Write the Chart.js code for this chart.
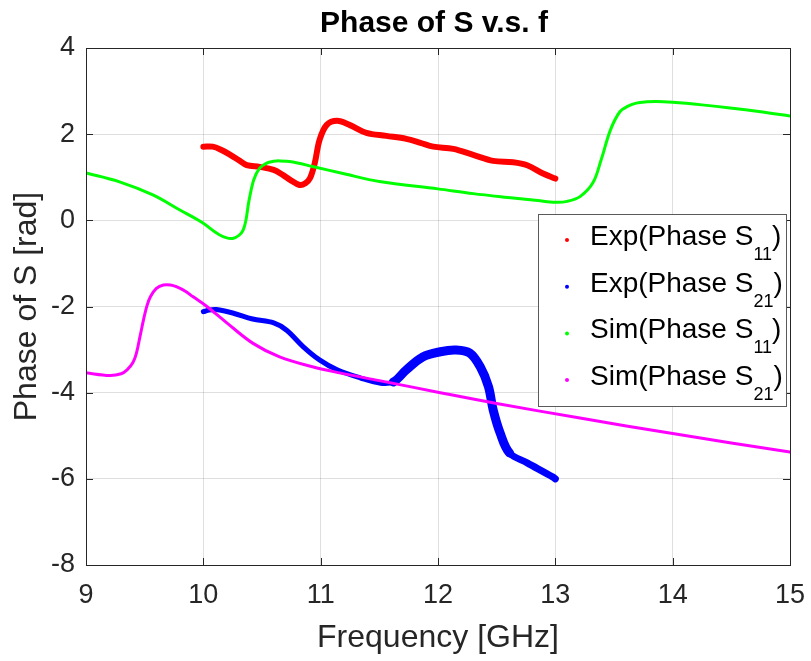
<!DOCTYPE html>
<html>
<head>
<meta charset="utf-8">
<script src="https://cdn.jsdelivr.net/npm/chart.js@4.4.1/dist/chart.umd.min.js"></script>
<style>
  html, body { margin: 0; padding: 0; background: #fff; }
</style>
</head>
<body>
<canvas id="phaseChart" width="811" height="661"></canvas>
<script>
// measured phase of S11 / S21 (10-13 GHz)
const expS11Freq = [10.0, 10.08, 10.15, 10.23, 10.3, 10.37, 10.48, 10.6, 10.68, 10.74, 10.82, 10.87, 10.91, 10.95, 10.99, 11.05, 11.14, 11.25, 11.39, 11.56, 11.73, 11.85, 11.96, 12.13, 12.3, 12.47, 12.64, 12.76, 12.9, 13.0];
const expS11Phase = [1.71, 1.71, 1.64, 1.52, 1.40, 1.28, 1.24, 1.17, 1.05, 0.94, 0.82, 0.86, 0.98, 1.33, 1.86, 2.21, 2.31, 2.21, 2.03, 1.96, 1.89, 1.80, 1.71, 1.66, 1.52, 1.38, 1.35, 1.28, 1.08, 0.97];

const expS21Freq = [10.0, 10.05, 10.11, 10.25, 10.42, 10.6, 10.71, 10.85, 10.99, 11.14, 11.34, 11.51, 11.62, 11.73, 11.87, 12.02, 12.15, 12.27, 12.36, 12.43, 12.47, 12.53, 12.61, 12.76, 12.98, 13.0];
const expS21Phase = [-2.12, -2.08, -2.07, -2.15, -2.29, -2.38, -2.55, -2.93, -3.24, -3.47, -3.66, -3.78, -3.75, -3.47, -3.17, -3.05, -3.01, -3.08, -3.40, -3.86, -4.40, -4.94, -5.40, -5.63, -5.96, -6.0];

// simulated phase (9-15 GHz)
const simS11Freq = [9.0, 9.28, 9.57, 9.8, 9.99, 10.14, 10.25, 10.34, 10.39, 10.43, 10.48, 10.54, 10.6, 10.65, 10.75, 10.93, 11.2, 11.5, 12.0, 12.3, 12.64, 12.85, 13.0, 13.1, 13.21, 13.32, 13.39, 13.47, 13.55, 13.62, 13.69, 13.78, 13.86, 14.0, 14.25, 14.49, 14.75, 15.0];
const simS11Phase = [1.10, 0.90, 0.59, 0.24, -0.05, -0.34, -0.42, -0.22, 0.47, 0.94, 1.21, 1.33, 1.37, 1.38, 1.36, 1.25, 1.08, 0.90, 0.73, 0.62, 0.52, 0.46, 0.42, 0.44, 0.55, 0.87, 1.40, 2.10, 2.52, 2.65, 2.72, 2.75, 2.76, 2.74, 2.68, 2.61, 2.52, 2.42];

const simS21Freq = [9.0, 9.2, 9.3, 9.35, 9.40, 9.43, 9.46, 9.49, 9.52, 9.55, 9.60, 9.66, 9.72, 9.77, 9.85, 9.91, 10.03, 10.2, 10.42, 10.65, 10.93, 11.16, 11.5, 12.02, 12.5, 13.21, 14.0, 15.0];
const simS21Phase = [-3.54, -3.60, -3.56, -3.47, -3.30, -3.08, -2.70, -2.31, -1.98, -1.77, -1.58, -1.50, -1.50, -1.54, -1.65, -1.77, -2.0, -2.38, -2.85, -3.17, -3.40, -3.54, -3.72, -4.0, -4.25, -4.59, -4.95, -5.38];

const seriesNames = ['Exp(Phase S', 'Exp(Phase S', 'Sim(Phase S', 'Sim(Phase S'];
const seriesSubs = ['11', '21', '11', '21'];
const seriesColors = ['#ff0000', '#0000ff', '#00ff00', '#ff00ff'];

const xTicks = [9, 10, 11, 12, 13, 14, 15];
const yTicks = [-8, -6, -4, -2, 0, 2, 4];

const FONT = '"Liberation Sans", Arial, Helvetica, sans-serif';
const AXIS_COLOR = '#262626';

function toPoints(xs, ys) {
  return xs.map((x, i) => ({ x: x, y: ys[i] }));
}

// box, inward ticks, title and legend, MATLAB style
const figureExtras = {
  id: 'figureExtras',
  afterDraw(chart) {
    const ctx = chart.ctx;
    const { left, right, top, bottom } = chart.chartArea;
    const xs = chart.scales.x, ys = chart.scales.y;
    const tickLen = 7;

    ctx.save();
    ctx.strokeStyle = AXIS_COLOR;
    ctx.lineWidth = 1;
    ctx.beginPath();
    xTicks.forEach(v => {
      const px = Math.round(xs.getPixelForValue(v)) + 0.5;
      ctx.moveTo(px, bottom); ctx.lineTo(px, bottom - tickLen);
      ctx.moveTo(px, top); ctx.lineTo(px, top + tickLen);
    });
    yTicks.forEach(v => {
      const py = Math.round(ys.getPixelForValue(v)) + 0.5;
      ctx.moveTo(left, py); ctx.lineTo(left + tickLen, py);
      ctx.moveTo(right, py); ctx.lineTo(right - tickLen, py);
    });
    ctx.stroke();
    ctx.strokeRect(Math.round(left) + 0.5, Math.round(top) + 0.5, Math.round(right - left), Math.round(bottom - top));

    // title
    ctx.fillStyle = '#000';
    ctx.font = 'bold 30px ' + FONT;
    ctx.textAlign = 'center';
    ctx.textBaseline = 'alphabetic';
    ctx.fillText('Phase of S v.s. f', 434, 32);

    // legend
    const lx = 538, ly = 214, lw = 248, lh = 192;
    ctx.fillStyle = '#fff';
    ctx.fillRect(lx, ly, lw, lh);
    ctx.strokeStyle = '#5a5a5a';
    ctx.strokeRect(lx + 0.5, ly + 0.5, lw, lh);
    ctx.textAlign = 'left';
    seriesNames.forEach((name, i) => {
      const base = 245 + i * 46.7;
      ctx.fillStyle = seriesColors[i];
      ctx.beginPath();
      ctx.arc(567, base - 5, 2, 0, Math.PI * 2);
      ctx.fill();
      ctx.fillStyle = '#000';
      ctx.font = '28px ' + FONT;
      ctx.fillText(name, 590, base);
      let x = 590 + ctx.measureText(name).width;
      ctx.font = '18px ' + FONT;
      ctx.fillText(seriesSubs[i], x, base + 15);
      x += ctx.measureText(seriesSubs[i]).width;
      ctx.font = '28px ' + FONT;
      ctx.fillText(')', x, base);
    });
    ctx.restore();
  }
};

const ctx = document.getElementById('phaseChart').getContext('2d');
const myChart = new Chart(ctx, {
  type: 'scatter',
  data: {
    datasets: [
      {
        label: 'Exp(Phase S11)',
        data: toPoints(expS11Freq, expS11Phase),
        borderColor: seriesColors[0],
        borderWidth: 6,
        order: 4
      },
      {
        label: 'Exp(Phase S21)',
        data: toPoints(expS21Freq, expS21Phase),
        borderColor: seriesColors[1],
        borderWidth: 5,
        // the measured trace gets noisier (wider) past 11.6 GHz
        segment: {
          borderWidth: c => {
            const x = c.p0.parsed.x;
            if (x >= 11.62 && x < 12.55) return 9;
            if (x >= 12.55) return 7;
            return 5;
          }
        },
        order: 3
      },
      {
        label: 'Sim(Phase S11)',
        data: toPoints(simS11Freq, simS11Phase),
        borderColor: seriesColors[2],
        borderWidth: 3,
        order: 2
      },
      {
        label: 'Sim(Phase S21)',
        data: toPoints(simS21Freq, simS21Phase),
        borderColor: seriesColors[3],
        borderWidth: 3,
        order: 1
      }
    ]
  },
  options: {
    responsive: false,
    animation: false,
    showLine: true,
    layout: { padding: { left: 0, right: 21, top: 48, bottom: 0 } },
    elements: {
      point: { radius: 0, hoverRadius: 0 },
      line: { tension: 0.35, borderCapStyle: 'round', borderJoinStyle: 'round' }
    },
    plugins: {
      legend: { display: false },
      tooltip: { enabled: false },
      title: { display: false }
    },
    scales: {
      x: {
        type: 'linear',
        min: 9,
        max: 15,
        afterBuildTicks: s => { s.ticks = xTicks.map(v => ({ value: v })); },
        afterFit: s => { s.height = 96; s.paddingRight = 0; s.paddingLeft = 0; },
        grid: { color: 'rgba(38,38,38,0.15)', drawTicks: false },
        border: { display: false },
        ticks: { font: { size: 27, family: FONT }, color: AXIS_COLOR, padding: 14, maxRotation: 0 },
        title: { display: true, text: 'Frequency [GHz]', font: { size: 32, family: FONT }, color: AXIS_COLOR, padding: { top: 0, bottom: 4 } }
      },
      y: {
        type: 'linear',
        min: -8,
        max: 4,
        afterBuildTicks: s => { s.ticks = yTicks.map(v => ({ value: v })); },
        afterFit: s => { s.width = 86; s.paddingTop = 0; s.paddingBottom = 0; },
        grid: { color: 'rgba(38,38,38,0.15)', drawTicks: false },
        border: { display: false },
        ticks: { font: { size: 27, family: FONT }, color: AXIS_COLOR, padding: 11 },
        title: { display: true, text: 'Phase of S [rad]', font: { size: 32, family: FONT }, color: AXIS_COLOR, padding: { top: 8, bottom: 0 } }
      }
    }
  },
  plugins: [figureExtras]
});
</script>
</body>
</html>
